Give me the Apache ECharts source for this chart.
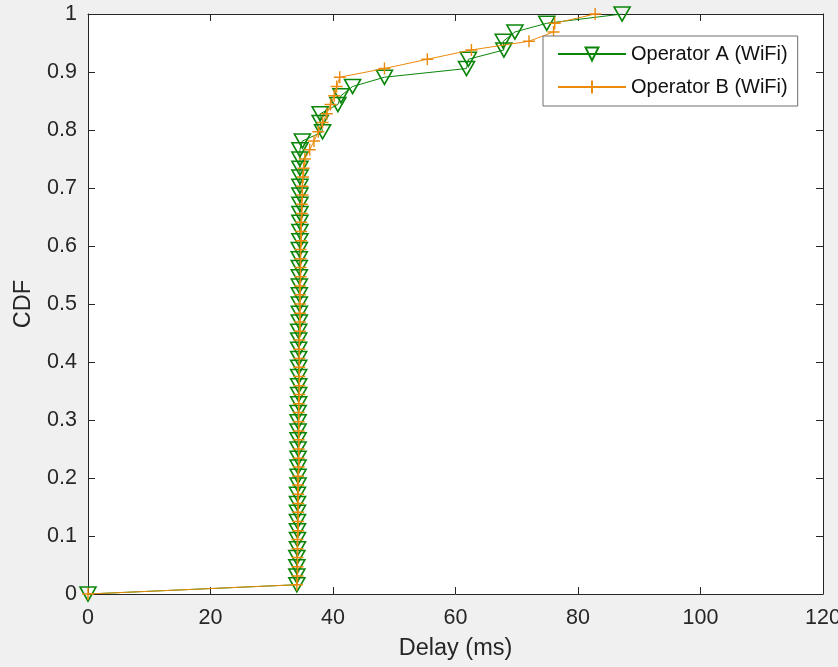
<!DOCTYPE html>
<html><head><meta charset="utf-8">
<script src="https://cdn.jsdelivr.net/npm/echarts@6/dist/echarts.min.js"></script>
<style>html,body{margin:0;padding:0;background:#f0f0f0}#c{width:838px;height:667px}</style>
</head><body><div id="c"></div><script>
const cdfLevels = [0,
0.016,0.031,0.047,0.063,0.078,0.094,0.109,0.125,
0.141,0.156,0.172,0.188,0.203,0.219,0.234,0.25,
0.266,0.281,0.297,0.313,0.328,0.344,0.359,0.375,
0.391,0.406,0.422,0.438,0.453,0.469,0.484,0.5,
0.516,0.531,0.547,0.563,0.578,0.594,0.609,0.625,
0.641,0.656,0.672,0.688,0.703,0.719,0.734,0.75,
0.766,0.781,0.797,0.813,0.828,0.844,0.859,0.875,
0.891,0.906,0.922,0.938,0.953,0.969,0.984,1];
const delayA = [0,
34.1,34.1,34.1,34.1,34.2,34.2,34.2,34.2,
34.2,34.2,34.2,34.3,34.3,34.3,34.3,34.3,
34.3,34.3,34.3,34.3,34.4,34.4,34.4,34.4,
34.4,34.4,34.4,34.4,34.4,34.5,34.5,34.5,
34.5,34.5,34.5,34.5,34.5,34.5,34.6,34.6,
34.6,34.6,34.6,34.6,34.6,34.6,34.6,34.6,
34.6,35.0,38.3,37.9,37.9,40.8,41.3,43.2,
48.4,61.8,62.1,67.9,67.8,69.7,74.9,87.2];
const delayB = [0,
34.1,34.2,34.2,34.2,34.2,34.2,34.3,34.3,
34.3,34.3,34.3,34.3,34.3,34.4,34.4,34.4,
34.4,34.4,34.4,34.4,34.4,34.5,34.5,34.5,
34.5,34.5,34.5,34.5,34.6,34.6,34.6,34.6,
34.6,34.6,34.7,34.7,34.7,34.7,34.8,34.8,
34.8,34.9,34.9,35.0,35.0,35.1,35.2,35.4,
36.2,36.9,37.6,38.3,39.0,39.6,40.2,40.6,
41.1,48.4,55.4,62.6,72.0,76.0,76.2,82.8];
const seriesNames = ['Operator A (WiFi)', 'Operator B (WiFi)'];
const xTitle = 'Delay (ms)';
const yTitle = 'CDF';

const FONT = "'Liberation Sans', Arial, sans-serif";
const AX = '#262626';
const GREEN = '#0a850a';
const ORANGE = '#ec8a0c';

function axisCommon(show, margin) {
  return {
    axisLine: {show: true, onZero: false, lineStyle: {color: AX, width: 1}},
    axisTick: {show: true, inside: true, length: 7, lineStyle: {color: AX, width: 1}},
    axisLabel: {show: show, color: AX, fontSize: 21.5, fontFamily: FONT, margin: margin},
    splitLine: {show: false}
  };
}

const chart = echarts.init(document.getElementById('c'), null, {renderer: 'canvas'});
chart.setOption({
  animation: false,
  backgroundColor: '#f0f0f0',
  textStyle: {fontFamily: FONT},
  grid: {left: 88, right: 15, top: 14, bottom: 73, outerBoundsMode: 'none', containLabel: false,
    show: true, backgroundColor: '#ffffff', borderWidth: 0},
  legend: {
    orient: 'vertical', left: 543, top: 36,
    padding: [8, 10, 9, 14],
    itemWidth: 68, itemHeight: 16, itemGap: 13,
    backgroundColor: '#ffffff', borderColor: '#6e6e6e', borderWidth: 1,
    textStyle: {fontSize: 20, color: '#111', fontFamily: FONT},
    data: seriesNames
  },
  xAxis: [
    Object.assign({type: 'value', min: 0, max: 120, interval: 20, position: 'bottom',
      name: xTitle, nameLocation: 'middle', nameGap: 43,
      nameTextStyle: {fontSize: 23.5, color: AX, fontFamily: FONT}}, axisCommon(true, 13)),
    Object.assign({type: 'value', min: 0, max: 120, interval: 20, position: 'top'}, axisCommon(false, 8))
  ],
  yAxis: [
    Object.assign({type: 'value', min: 0, max: 1, interval: 0.1, position: 'left',
      name: yTitle, nameLocation: 'middle', nameGap: 52, nameRotate: 90,
      nameTextStyle: {fontSize: 23.5, color: AX, fontFamily: FONT}}, axisCommon(true, 11),
      {axisLabel: {show: true, color: AX, fontSize: 21.5, fontFamily: FONT, margin: 11,
        formatter: v => String(Math.round(v * 10) / 10)}}),
    Object.assign({type: 'value', min: 0, max: 1, interval: 0.1, position: 'right'}, axisCommon(false, 8))
  ],
  series: [
    {
      name: seriesNames[0], type: 'line', xAxisIndex: 0, yAxisIndex: 0,
      data: delayA.map((d, i) => [d, cdfLevels[i]]),
      symbol: 'path://M0,0 L16,0 L8,14 Z', symbolSize: [16, 14], showAllSymbol: true,
      itemStyle: {color: 'rgba(255,255,255,0)', borderColor: GREEN, borderWidth: 1.6},
      lineStyle: {color: GREEN, width: 1},
      emphasis: {disabled: true}, z: 2
    },
    {
      name: seriesNames[1], type: 'line', xAxisIndex: 0, yAxisIndex: 0,
      data: delayB.map((d, i) => [d, cdfLevels[i]]),
      symbol: 'path://M0,5 L10,5 M5,0 L5,10', symbolSize: 12, showAllSymbol: true,
      itemStyle: {color: 'rgba(255,255,255,0)', borderColor: ORANGE, borderWidth: 1.4},
      lineStyle: {color: ORANGE, width: 1},
      emphasis: {disabled: true}, z: 3
    }
  ]
});
</script></body></html>
